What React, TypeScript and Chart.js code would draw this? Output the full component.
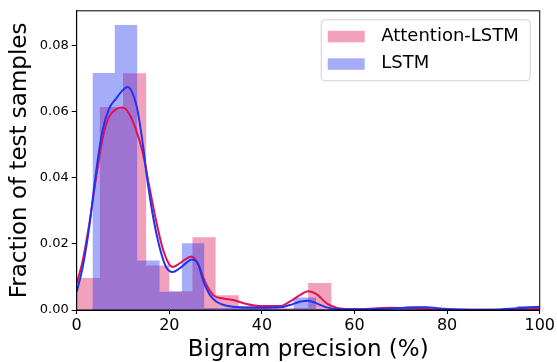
import React, { useEffect, useRef } from "react";
import { Chart, registerables } from "chart.js";

Chart.register(...registerables);

// Histogram: Attention-LSTM (bin left edges + last right edge)
const attnEdges = [0, 5, 10, 15, 20, 25, 30, 35, 40, 45, 50, 55, 60, 65, 70, 75, 80, 85, 90, 95, 100];
const attnHeights = [0.0097, 0.0615, 0.0717, 0.0135, 0.0057, 0.022, 0.0045, 0.0012, 0.0006, 0.0006, 0.0082, 0, 0.0002, 0.0008, 0.0004, 0, 0, 0, 0, 0.0004];

// Histogram: LSTM
const lstmEdges = [3.4, 8.23, 13.06, 17.89, 22.72, 27.55, 32.38, 37.21, 42.04, 46.87, 51.7, 56.53, 61.36, 66.19, 71.02, 75.85, 80.68, 85.51, 90.34, 95.17, 100];
const lstmHeights = [0.0718, 0.0863, 0.015, 0.0055, 0.0202, 0.0006, 0.0006, 0.0006, 0.0003, 0.0038, 0.0003, 0, 0, 0.0004, 0.0012, 0.0002, 0, 0, 0, 0.0012];

// KDE curves
const attnKdeX = [0, 1.3, 2.7, 4.2, 5.6, 7.0, 8.5, 9.9, 11.3, 12.7, 14.2, 15.6, 17.0, 18.5, 19.9, 20.7, 22.1, 23.6, 24.8, 26.2, 27.7, 29.5, 31.6, 33.8, 36.7, 39.6, 43.9, 46.0, 48.2, 50.0, 51.8, 54.0, 56.1, 60, 65, 68, 72, 75, 80, 90, 95, 100];
const attnKdeY = [0.008, 0.015, 0.026, 0.04, 0.052, 0.0585, 0.0608, 0.0613, 0.0595, 0.055, 0.048, 0.038, 0.028, 0.019, 0.014, 0.013, 0.014, 0.0155, 0.0162, 0.014, 0.0086, 0.0045, 0.0035, 0.003, 0.0018, 0.0012, 0.0012, 0.0025, 0.0045, 0.0057, 0.0048, 0.002, 0.0007, 0.0002, 0.0005, 0.0007, 0.0005, 0.0004, 0.0001, 0.0001, 0.0002, 0.0003];
const lstmKdeX = [0, 1.3, 2.7, 4.2, 5.6, 7.0, 8.5, 9.9, 11.0, 12.1, 13.2, 14.3, 15.3, 16.4, 17.9, 19.3, 20.7, 22.1, 23.6, 24.8, 26.2, 27.3, 28.8, 30.2, 32.4, 35.2, 40.3, 43.9, 46.0, 48.2, 50.0, 51.8, 54.0, 56.8, 60, 65, 70, 75, 80, 85, 90, 95, 100];
const lstmKdeY = [0.0055, 0.013, 0.025, 0.042, 0.0545, 0.061, 0.064, 0.0665, 0.0675, 0.0655, 0.06, 0.05, 0.039, 0.029, 0.019, 0.013, 0.0115, 0.0125, 0.0142, 0.0153, 0.014, 0.009, 0.0045, 0.0025, 0.0013, 0.0008, 0.0007, 0.0008, 0.0015, 0.0025, 0.0028, 0.002, 0.0008, 0.0002, 0.0002, 0.0003, 0.0006, 0.0008, 0.0003, 0.0001, 0.0001, 0.0005, 0.001];

const seriesNames = ["Attention-LSTM", "LSTM"];
const xTicks = [0, 20, 40, 60, 80, 100];
const yTicks = [0, 0.02, 0.04, 0.06, 0.08];

const PINK_FILL = "rgba(222, 20, 90, 0.4)";
const BLUE_FILL = "rgba(30, 50, 240, 0.4)";
const RED_LINE = "#DF1259";
const BLUE_LINE = "#1E35F0";
const FONT = "DejaVu Sans";

function histPoints(edges: number[], heights: number[]) {
  const pts = heights.map((h, i) => ({ x: edges[i], y: h }));
  pts.push({ x: edges[edges.length - 1], y: heights[heights.length - 1] });
  return pts;
}

const framePlugin = {
  id: "frame",
  afterDatasetsDraw(chart: any) {
    const { ctx, chartArea: a } = chart;
    ctx.save();
    ctx.strokeStyle = "#000";
    ctx.lineWidth = 1;
    ctx.strokeRect(a.left, a.top, a.right - a.left, a.bottom - a.top);
    ctx.restore();
  },
};

const legendPlugin = {
  id: "customLegend",
  afterDraw(chart: any) {
    const { ctx, chartArea: a } = chart;
    const right = a.right - 9.5;
    const top = a.top + 9;
    const w = 209;
    const h = 61;
    const left = right - w;
    ctx.save();
    ctx.beginPath();
    const r = 4;
    ctx.moveTo(left + r, top);
    ctx.arcTo(right, top, right, top + h, r);
    ctx.arcTo(right, top + h, left, top + h, r);
    ctx.arcTo(left, top + h, left, top, r);
    ctx.arcTo(left, top, right, top, r);
    ctx.closePath();
    ctx.fillStyle = "rgba(255,255,255,0.8)";
    ctx.fill();
    ctx.strokeStyle = "#d0d0d0";
    ctx.lineWidth = 1;
    ctx.stroke();
    const colors = [PINK_FILL, BLUE_FILL];
    ctx.font = `18px '${FONT}'`;
    ctx.textBaseline = "middle";
    ctx.textAlign = "left";
    seriesNames.forEach((name, i) => {
      const cy = top + 16.5 + i * 27.5;
      ctx.fillStyle = colors[i];
      ctx.fillRect(left + 6.5, cy - 5.5, 37, 11.5);
      ctx.fillStyle = "#000";
      ctx.fillText(name, left + 60, cy);
    });
    ctx.restore();
  },
};

export default function App() {
  const canvasRef = useRef<HTMLCanvasElement | null>(null);

  useEffect(() => {
    if (!canvasRef.current) return;
    const chart = new Chart(canvasRef.current, {
      type: "line",
      data: {
        datasets: [
          {
            label: "LSTM KDE",
            data: lstmKdeX.map((x, i) => ({ x, y: lstmKdeY[i] })),
            borderColor: BLUE_LINE,
            borderWidth: 2,
            pointRadius: 0,
            fill: false,
            cubicInterpolationMode: "monotone",
          },
          {
            label: "Attention-LSTM KDE",
            data: attnKdeX.map((x, i) => ({ x, y: attnKdeY[i] })),
            borderColor: RED_LINE,
            borderWidth: 2,
            pointRadius: 0,
            fill: false,
            cubicInterpolationMode: "monotone",
          },
          {
            label: seriesNames[1],
            data: histPoints(lstmEdges, lstmHeights),
            stepped: true,
            borderColor: "transparent",
            borderWidth: 0,
            backgroundColor: BLUE_FILL,
            pointRadius: 0,
            fill: "origin",
          },
          {
            label: seriesNames[0],
            data: histPoints(attnEdges, attnHeights),
            stepped: true,
            borderColor: "transparent",
            borderWidth: 0,
            backgroundColor: PINK_FILL,
            pointRadius: 0,
            fill: "origin",
          },
        ],
      },
      options: {
        animation: false,
        responsive: false,
        layout: { padding: { left: 0, right: 17, top: 8, bottom: 0 } },
        plugins: {
          legend: { display: false },
          tooltip: { enabled: false },
        },
        scales: {
          x: {
            type: "linear",
            min: 0,
            max: 100,
            afterBuildTicks: (scale: any) => {
              scale.ticks = xTicks.map((v) => ({ value: v }));
            },
            afterFit: (scale: any) => {
              scale.height = 52;
            },
            grid: { drawOnChartArea: false, drawTicks: true, tickLength: 4, color: "#000" },
            border: { display: true, color: "#000" },
            ticks: {
              color: "#000",
              font: { family: FONT, size: 16 },
              padding: 2,
              maxRotation: 0,
              callback: (v: any) => String(v),
            },
            title: {
              display: true,
              text: "Bigram precision (%)",
              color: "#000",
              font: { family: FONT, size: 23, lineHeight: 1 },
              padding: { top: 0, bottom: 0 },
            },
          },
          y: {
            type: "linear",
            min: 0,
            max: 0.0906,
            afterBuildTicks: (scale: any) => {
              scale.ticks = yTicks.map((v) => ({ value: v }));
            },
            afterFit: (scale: any) => {
              scale.width = 76.7;
            },
            grid: { drawOnChartArea: false, drawTicks: true, tickLength: 5, color: "#000" },
            border: { display: true, color: "#000" },
            ticks: {
              color: "#000",
              font: { family: FONT, size: 13 },
              padding: 3,
              callback: (v: any) => Number(v).toFixed(2),
            },
            title: {
              display: true,
              text: "Fraction of test samples",
              color: "#000",
              font: { family: FONT, size: 23, lineHeight: 1 },
              padding: { top: 8.5, bottom: 0 },
            },
          },
        },
      },
      plugins: [framePlugin, legendPlugin],
    });
    return () => chart.destroy();
  }, []);

  return (
    <div style={{ position: "absolute", left: 0, top: 0, width: 557, height: 362 }}>
      <canvas ref={canvasRef} width={557} height={362} />
    </div>
  );
}
